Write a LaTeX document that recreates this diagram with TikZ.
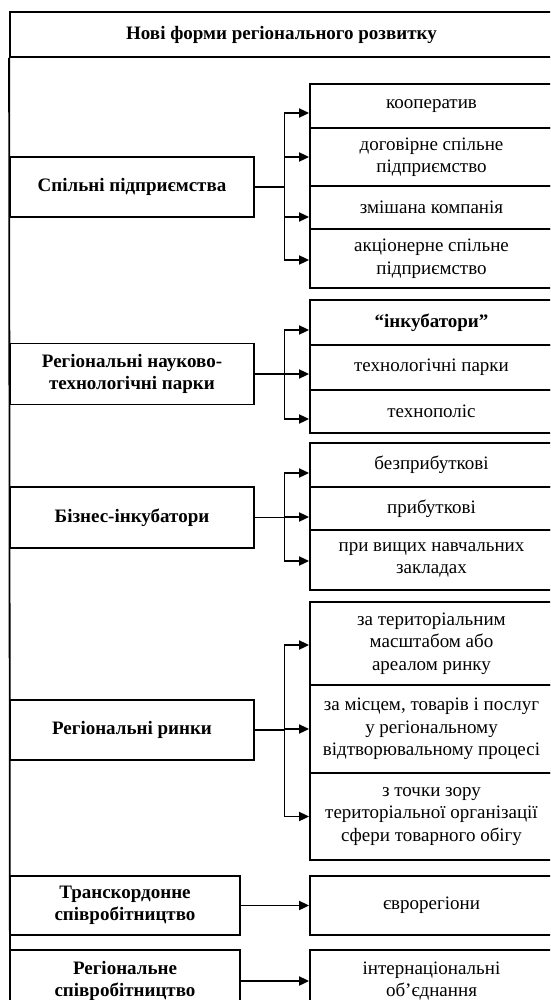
\documentclass[tikz,border=0pt]{standalone}
\usepackage{fontspec}
\setmainfont{Liberation Serif}
\usetikzlibrary{arrows.meta}
\begin{document}
\begin{tikzpicture}[x=1pt,y=-1pt,
  ln/.style={line width=1.8pt},
  box/.style={draw, ln, inner sep=0pt, align=center, font=\fontsize{19}{22.5}\selectfont},
  lbox/.style={box, font=\bfseries\fontsize{19}{22.5}\selectfont, minimum width=244pt},
  sbox/.style={box, font=\bfseries\fontsize{19}{22.5}\selectfont, minimum width=230pt},
  rbox/.style={box, minimum width=243pt},
  arr/.style={ln, -{Triangle[length=10pt,width=9pt]}}]
\useasboundingbox (0,0) rectangle (550,1000);
\clip (0,0) rectangle (550,1000);
% title and frame
\node[box, font=\bfseries\fontsize{19}{22.5}\selectfont, minimum width=543pt, minimum height=45pt] (title) at (281.5,34.5) {Нові форми регіонального розвитку};
\coordinate (fl) at (10,1040);
\coordinate (fr) at (553,1040);
\draw[ln] (title.south west) -- (fl);
\draw[ln] (title.south east) -- (fr);
% group 1
\node[lbox, minimum height=60pt] (s1) at (132,187) {Спільні підприємства};
\node[rbox, minimum height=44pt] (k1) at (431.5,106) {кооператив};
\node[rbox, minimum height=58pt] (k2) at (431.5,157) {договірне спільне\\підприємство};
\node[rbox, minimum height=43pt] (k3) at (431.5,207.5) {змішана компанія};
\node[rbox, minimum height=59pt] (k4) at (431.5,258.5) {акціонерне спільне\\підприємство};
\draw[ln] (s1.east) -- ++(29.5,0) coordinate (j1);
\draw[arr] (j1) |- ([yshift=-7pt]k1.west);
\draw[arr] (j1) |- (k2.west);
\draw[arr] (j1) |- ([yshift=-9.5pt]k3.west);
\draw[arr] (j1) |- ([yshift=-1.5pt]k4.west);
% group 2
\node[lbox, minimum height=61pt] (s2) at (132,374) {Регіональні науково-\\технологічні парки};
\node[rbox, minimum height=45pt, font=\bfseries\fontsize{19}{22.5}\selectfont] (t1) at (431.5,322.5) {“інкубатори”};
\node[rbox, minimum height=45pt] (t2) at (431.5,367.5) {технологічні парки};
\node[rbox, minimum height=43pt] (t3) at (431.5,411.5) {технополіс};
\draw[ln] (s2.east) -- ++(29.5,0) coordinate (j2);
\draw[arr] (j2) |- ([yshift=-7.5pt]t1.west);
\draw[arr] (j2) |- ([yshift=-6.5pt]t2.west);
\draw[arr] (j2) |- ([yshift=-7.5pt]t3.west);
% group 3
\node[lbox, minimum height=61pt] (s3) at (132,517.5) {Бізнес-інкубатори};
\node[rbox, minimum height=44pt] (b1) at (431.5,465) {безприбуткові};
\node[rbox, minimum height=43pt] (b2) at (431.5,508.5) {прибуткові};
\node[rbox, minimum height=60pt] (b3) at (431.5,560) {при вищих навчальних\\закладах};
\draw[ln] (s3.east) -- ++(29.5,0) coordinate (j3);
\draw[arr] (j3) |- ([yshift=-8pt]b1.west);
\draw[arr] (j3) |- ([yshift=-8.5pt]b2.west);
\draw[arr] (j3) |- ([yshift=-1pt]b3.west);
% group 4
\node[lbox, minimum height=60pt] (s4) at (132,730) {Регіональні ринки};
\node[rbox, minimum height=83pt] (r1) at (431.5,643.5) {за територіальним\\масштабом або\\ареалом ринку};
\node[rbox, minimum height=88pt] (r2) at (431.5,729) {за місцем, товарів і послуг\\у регіональному\\відтворювальному процесі};
\node[rbox, minimum height=87pt] (r3) at (431.5,816.5) {з точки зору\\територіальної організації\\сфери товарного обігу};
\draw[ln] (s4.east) -- ++(29.5,0) coordinate (j4);
\draw[arr] (j4) |- ([yshift=-1.5pt]r1.west);
\draw[arr] (j4) |- (r2.west);
\draw[arr] (j4) |- (r3.west);
% group 5
\node[sbox, minimum height=59pt] (tc) at (125,905.5) {Транскордонне\\співробітництво};
\node[rbox, minimum height=59pt] (e1) at (431.5,905.5) {єврорегіони};
\draw[arr] (tc) -- (e1);
% group 6
\node[sbox, minimum height=62pt] (rs) at (125,981) {Регіональне\\співробітництво};
\node[rbox, minimum height=62pt] (i1) at (431.5,981) {інтернаціональні\\об’єднання};
\draw[arr] (rs) -- (i1);
\end{tikzpicture}
\end{document}
